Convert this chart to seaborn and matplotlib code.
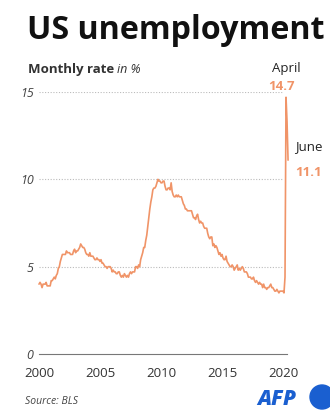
import matplotlib
matplotlib.use("Agg")
import matplotlib.pyplot as plt
import seaborn as sns
import pandas as pd
import numpy as np
from matplotlib.patches import Ellipse

# Monthly US unemployment rate (%), Jan 2000 - Jun 2020
years = list(range(2000, 2021))
rates_by_year = {
    2000: [4.0, 4.1, 4.0, 3.8, 4.0, 4.0, 4.0, 4.1, 3.9, 3.9, 3.9, 3.9],
    2001: [4.2, 4.2, 4.3, 4.4, 4.3, 4.5, 4.6, 4.9, 5.0, 5.3, 5.5, 5.7],
    2002: [5.7, 5.7, 5.7, 5.9, 5.8, 5.8, 5.8, 5.7, 5.7, 5.7, 5.9, 6.0],
    2003: [5.8, 5.9, 5.9, 6.0, 6.1, 6.3, 6.2, 6.1, 6.1, 6.0, 5.8, 5.7],
    2004: [5.7, 5.6, 5.8, 5.6, 5.6, 5.6, 5.5, 5.4, 5.4, 5.5, 5.4, 5.4],
    2005: [5.3, 5.4, 5.2, 5.2, 5.1, 5.0, 5.0, 4.9, 5.0, 5.0, 5.0, 4.9],
    2006: [4.7, 4.8, 4.7, 4.7, 4.6, 4.6, 4.7, 4.7, 4.5, 4.4, 4.5, 4.4],
    2007: [4.6, 4.5, 4.4, 4.5, 4.4, 4.6, 4.7, 4.6, 4.7, 4.7, 4.7, 5.0],
    2008: [5.0, 4.9, 5.1, 5.0, 5.4, 5.6, 5.8, 6.1, 6.1, 6.5, 6.8, 7.3],
    2009: [7.8, 8.3, 8.7, 9.0, 9.4, 9.5, 9.5, 9.6, 9.8, 10.0, 9.9, 9.9],
    2010: [9.8, 9.8, 9.9, 9.9, 9.6, 9.4, 9.4, 9.5, 9.5, 9.4, 9.8, 9.3],
    2011: [9.1, 9.0, 9.0, 9.1, 9.0, 9.1, 9.0, 9.0, 9.0, 8.8, 8.6, 8.5],
    2012: [8.3, 8.3, 8.2, 8.2, 8.2, 8.2, 8.2, 8.0, 7.8, 7.8, 7.7, 7.9],
    2013: [8.0, 7.7, 7.5, 7.6, 7.5, 7.5, 7.3, 7.2, 7.2, 7.2, 6.9, 6.7],
    2014: [6.6, 6.7, 6.7, 6.2, 6.3, 6.1, 6.2, 6.1, 5.9, 5.7, 5.8, 5.6],
    2015: [5.7, 5.5, 5.4, 5.4, 5.6, 5.3, 5.2, 5.1, 5.0, 5.0, 5.1, 5.0],
    2016: [4.8, 4.9, 5.0, 5.1, 4.8, 4.9, 4.8, 4.9, 5.0, 4.9, 4.7, 4.7],
    2017: [4.7, 4.6, 4.4, 4.4, 4.4, 4.3, 4.3, 4.4, 4.2, 4.1, 4.2, 4.1],
    2018: [4.0, 4.1, 4.0, 4.0, 3.8, 4.0, 3.8, 3.8, 3.7, 3.8, 3.8, 3.9],
    2019: [4.0, 3.8, 3.8, 3.7, 3.6, 3.6, 3.7, 3.6, 3.5, 3.6, 3.6, 3.6],
    2020: [3.6, 3.5, 4.4, 14.7, 13.3, 11.1],
}
y_ticks = [0, 5, 10, 15]
x_ticks = [2000, 2005, 2010, 2015, 2020]
april_value = 14.7
june_value = 11.1

dates, rates = [], []
for y in years:
    for m, r in enumerate(rates_by_year[y]):
        dates.append(y + m / 12)
        rates.append(r)
df = pd.DataFrame({"date": dates, "rate": rates})

sns.set_theme(style="white")
plt.rcParams['font.family'] = ['Open Sans', 'DejaVu Sans']

fig = plt.figure(figsize=(3.30, 4.11), dpi=100)
ax = fig.add_axes([39 / 330, 57 / 411, 248 / 330, 262 / 411])

line_color = "#F09468"
sns.lineplot(data=df, x="date", y="rate", ax=ax, color=line_color, linewidth=1.2)
for l in ax.lines:
    l.set_clip_on(False)

ax.set_xlim(2000, 2020.33)
ax.set_ylim(0, 15)
ax.set_xlabel("")
ax.set_ylabel("")
ax.set_xticks(x_ticks)
ax.set_yticks(y_ticks)
ax.set_xticklabels([str(t) for t in x_ticks], fontsize=9.5, color="#333333")
ax.set_yticklabels([str(t) for t in y_ticks], fontsize=9, color="#444444", style="italic")
ax.tick_params(axis="x", direction="in", length=4, width=0.8, color="#777777", pad=9)
ax.tick_params(axis="y", length=0, pad=4)
for s in ["top", "right", "left"]:
    ax.spines[s].set_visible(False)
ax.spines["bottom"].set_color("#777777")
ax.spines["bottom"].set_linewidth(0.8)
for t in y_ticks[1:]:
    ax.axhline(t, xmin=0, xmax=0.985, color="#BBBBBB", linestyle=(0, (1, 1.5)), linewidth=0.8, zorder=0)

# annotations
ax.annotate("April", xy=(2020.25, april_value), xytext=(0, 16), textcoords="offset points",
            ha="center", va="bottom", fontsize=9.5, color="#222222", annotation_clip=False)
ax.annotate(f"{april_value}", xy=(2020.25, april_value), xytext=(-3, 3), textcoords="offset points",
            ha="center", va="bottom", fontsize=9.5, color=line_color, fontweight="bold", annotation_clip=False)
ax.annotate("June", xy=(2020.42, june_value), xytext=(5, 5), textcoords="offset points",
            ha="left", va="bottom", fontsize=9.5, color="#222222", annotation_clip=False)
ax.annotate(f"{june_value}", xy=(2020.42, june_value), xytext=(5, -4), textcoords="offset points",
            ha="left", va="top", fontsize=9.5, color=line_color, fontweight="bold", annotation_clip=False)

# titles
fig.text(27 / 330, 1 - 39 / 411, "US unemployment", fontsize=23.2, fontweight="bold",
         color="#111111", ha="left", va="baseline")
sub = fig.text(28 / 330, 1 - 73 / 411, "Monthly rate", fontsize=9.5, fontweight="bold",
               color="#333333", ha="left", va="baseline")
fig.canvas.draw()
bb = sub.get_window_extent(renderer=fig.canvas.get_renderer())
fig.text((bb.x1 + 3) / 330, 1 - 73 / 411, "in %", fontsize=9, style="italic",
         color="#333333", ha="left", va="baseline")
fig.text(25 / 330, 1 - 404 / 411, "Source: BLS", fontsize=7.5, style="italic",
         color="#444444", ha="left", va="baseline")
fig.text(257 / 330, 1 - 405 / 411, "AFP", fontsize=15, fontweight="heavy", style="italic",
         color="#1A5FD0", ha="left", va="baseline")
fig.patches.append(Ellipse((322 / 330, 1 - 397 / 411), 24 / 330, 24 / 411,
                           transform=fig.transFigure, color="#1A5FD0"))

fig.savefig("out.png", dpi=100)
